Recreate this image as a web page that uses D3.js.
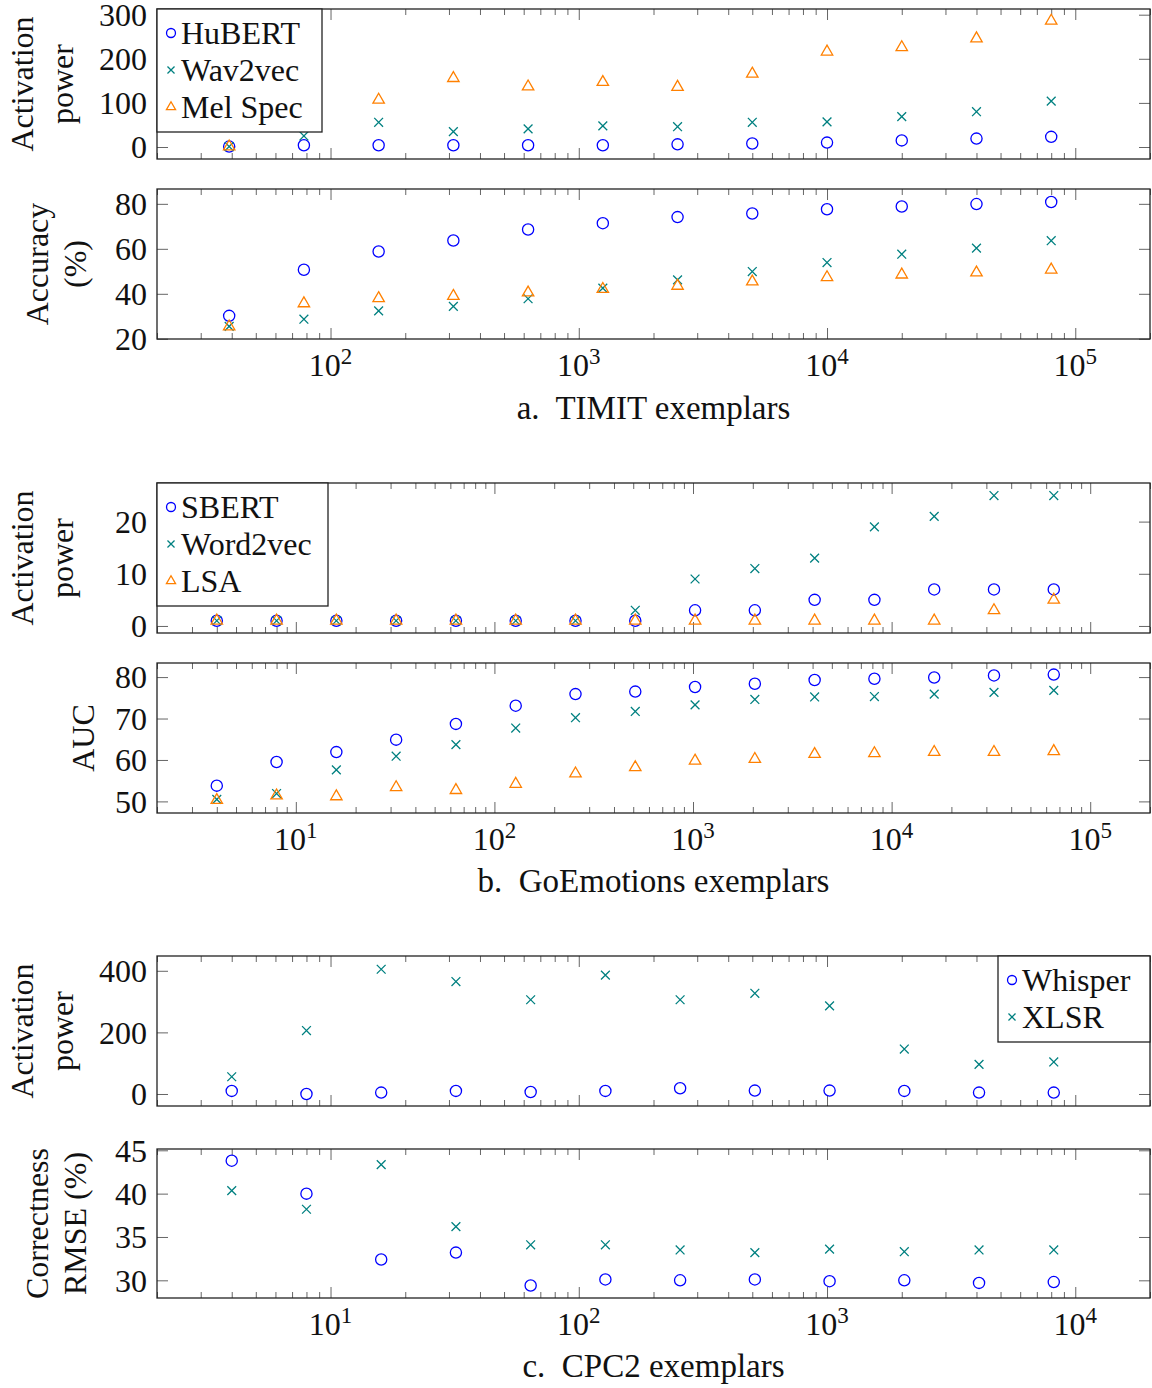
<!DOCTYPE html>
<html>
<head>
<meta charset="utf-8">
<script src="https://cdn.jsdelivr.net/npm/d3@7"></script>
<style>
  body { margin: 0; background: #fff; }
  svg text { font-family: "Liberation Serif", "Times New Roman", serif; fill: #111; }
</style>
</head>
<body>
<div id="chart"></div>
<script>
// ---- data ----
// a. TIMIT
const timitX = [39.0625, 78.125, 156.25, 312.5, 625, 1250, 2500, 5000, 10000, 20000, 40000, 80000];
const timitPowerHubert = [1, 4, 4, 4, 4, 4, 6, 8, 10, 15, 19, 23];
const timitPowerWav2vec = [1, 25, 56, 35, 41, 48, 46, 56, 57, 69, 80, 104];
const timitPowerMel = [1, 70, 107, 156, 137, 147, 136, 166, 216, 226, 246, 286];
const timitAccHubert = [30.2, 50.7, 58.8, 63.7, 68.6, 71.4, 74.1, 75.7, 77.6, 78.8, 79.9, 80.8];
const timitAccWav2vec = [25.5, 28.7, 32.4, 34.4, 37.8, 42.5, 46.2, 49.9, 53.9, 57.6, 60.3, 63.6];
const timitAccMel = [25.4, 35.7, 38.0, 39.0, 40.5, 42.1, 43.5, 45.4, 47.3, 48.5, 49.4, 50.7];

// b. GoEmotions
const goX = [4, 8, 16, 32, 64, 128, 256, 512, 1024, 2048, 4096, 8192, 16384, 32768, 65536];
const goPowerSbert = [1, 1, 1, 1, 1, 1, 1, 1, 3, 3, 5, 5, 7, 7, 7];
const goPowerWord2vec = [1, 1, 1, 1, 1, 1, 1, 3, 9, 11, 13, 19, 21, 25, 25];
const goPowerLsa = [1, 1, 1, 1, 1, 1, 1, 1, 1, 1, 1, 1, 1, 3, 5];
const goAucSbert = [53.8, 59.5, 61.9, 64.9, 68.7, 73.1, 75.9, 76.5, 77.6, 78.4, 79.3, 79.6, 79.9, 80.4, 80.6];
const goAucWord2vec = [50.5, 51.9, 57.6, 60.9, 63.7, 67.7, 70.2, 71.7, 73.3, 74.6, 75.2, 75.3, 75.9, 76.3, 76.8];
const goAucLsa = [50.3, 51.4, 51.2, 53.4, 52.7, 54.2, 56.7, 58.2, 59.8, 60.2, 61.4, 61.6, 61.9, 61.9, 62.1];

// c. CPC2
const cpcX = [4, 8, 16, 32, 64, 128, 256, 512, 1024, 2048, 4096, 8192];
const cpcPowerWhisper = [10, 0, 4.5, 10, 6.5, 10, 18.5, 11, 11, 10, 4.5, 4.5];
const cpcPowerXlsr = [56, 206, 405, 365, 306, 386, 306, 327, 286, 146, 96, 104];
const cpcRmseWhisper = [43.8, 40.0, 32.4, 33.2, 29.4, 30.1, 30.0, 30.1, 29.9, 30.0, 29.7, 29.8];
const cpcRmseXlsr = [40.35, 38.2, 43.35, 36.2, 34.1, 34.1, 33.5, 33.2, 33.6, 33.3, 33.5, 33.5];

// ---- layout ----
const W = 1152, H = 1388;
const left = 157, right = 1150;
const FONT = 32;

const svg = d3.select("#chart").append("svg")
  .attr("width", W)
  .attr("height", H);

const marks = {
  circle: { color: "#0000ff" },
  cross: { color: "#008080" },
  triangle: { color: "#ff8000" }
};

function drawMark(g, type, cx, cy, s) {
  const c = marks[type].color;
  if (type === "circle") {
    g.append("circle").attr("cx", cx).attr("cy", cy).attr("r", 5.6 * s)
      .attr("fill", "none").attr("stroke", c).attr("stroke-width", 1.3);
  } else if (type === "cross") {
    const d = 4.4 * s;
    g.append("path")
      .attr("d", `M${cx - d},${cy - d}L${cx + d},${cy + d}M${cx - d},${cy + d}L${cx + d},${cy - d}`)
      .attr("stroke", c).attr("stroke-width", 1.3).attr("fill", "none");
  } else {
    const r = 6.6 * s;
    g.append("path")
      .attr("d", `M${cx},${cy - r}L${cx + 0.866 * r},${cy + r / 2}L${cx - 0.866 * r},${cy + r / 2}Z`)
      .attr("stroke", c).attr("stroke-width", 1.3).attr("fill", "none")
      .attr("stroke-linejoin", "miter");
  }
}

// one sub-plot: framed box, log x, linear y
function drawPlot(cfg) {
  const x = d3.scaleLog().domain(cfg.xDomain).range([left, right]);
  const y = d3.scaleLinear().domain(cfg.yDomain).range([cfg.bottom, cfg.top]);
  const g = svg.append("g");

  const all = x.ticks();
  const isMajor = t => Math.abs(Math.log10(t) - Math.round(Math.log10(t))) < 1e-9;
  const major = all.filter(isMajor);
  const minor = all.filter(t => !isMajor(t));

  const tickStyle = sel => {
    sel.select(".domain").remove();
    sel.selectAll(".tick line").attr("stroke", "#666").attr("stroke-width", 1);
  };

  // x ticks, inside, bottom and top
  g.append("g").attr("transform", `translate(0,${cfg.bottom})`)
    .call(d3.axisBottom(x).tickValues(minor).tickSize(-6).tickFormat(""))
    .call(tickStyle);
  g.append("g").attr("transform", `translate(0,${cfg.bottom})`)
    .call(d3.axisBottom(x).tickValues(major).tickSize(-11).tickFormat(""))
    .call(tickStyle);
  g.append("g").attr("transform", `translate(0,${cfg.top})`)
    .call(d3.axisTop(x).tickValues(minor).tickSize(-6).tickFormat(""))
    .call(tickStyle);
  g.append("g").attr("transform", `translate(0,${cfg.top})`)
    .call(d3.axisTop(x).tickValues(major).tickSize(-11).tickFormat(""))
    .call(tickStyle);

  // y ticks, left with labels, right mirrored
  const yl = g.append("g").attr("transform", `translate(${left},0)`)
    .call(d3.axisLeft(y).tickValues(cfg.yTicks).tickSize(-11).tickPadding(10))
    .call(tickStyle);
  yl.selectAll(".tick text")
    .attr("font-size", FONT)
    .attr("font-family", "Liberation Serif")
    .attr("fill", "#111")
    .attr("dy", "0.34em");
  g.append("g").attr("transform", `translate(${right},0)`)
    .call(d3.axisRight(y).tickValues(cfg.yTicks).tickSize(-11).tickFormat(""))
    .call(tickStyle);

  // x labels 10^n
  if (cfg.xLabels) {
    major.forEach(t => {
      const e = Math.round(Math.log10(t));
      const tx = g.append("text")
        .attr("x", x(t))
        .attr("y", cfg.bottom + 37)
        .attr("text-anchor", "middle")
        .attr("font-size", FONT);
      tx.append("tspan").text("10");
      tx.append("tspan").attr("dy", -12).attr("font-size", 23).text(e);
    });
  }

  // y label (one or two lines, rotated)
  const cy = (cfg.top + cfg.bottom) / 2;
  cfg.yLabel.forEach((line, i) => {
    g.append("text")
      .attr("transform", `translate(${cfg.yLabelX[i]},${cy}) rotate(-90)`)
      .attr("text-anchor", "middle")
      .attr("dominant-baseline", "central")
      .attr("font-size", FONT)
      .text(line);
  });

  // data
  const pts = g.append("g");
  cfg.series.forEach(s => {
    cfg.xs.forEach((xv, i) => drawMark(pts, s.mark, x(xv), y(s.values[i]), 1));
  });

  // frame
  g.append("rect")
    .attr("x", left).attr("y", cfg.top)
    .attr("width", right - left).attr("height", cfg.bottom - cfg.top)
    .attr("fill", "none").attr("stroke", "#222").attr("stroke-width", 1.3);

  // legend
  if (cfg.legend) {
    const L = cfg.legend;
    const lg = g.append("g");
    lg.append("rect")
      .attr("x", L.x).attr("y", L.y).attr("width", L.w).attr("height", L.h)
      .attr("fill", "#fff").attr("stroke", "#222").attr("stroke-width", 1.3);
    cfg.series.forEach((s, i) => {
      const ry = L.y + 24 + i * 37;
      drawMark(lg, s.mark, L.x + 14, ry, 0.8);
      lg.append("text")
        .attr("x", L.x + 24)
        .attr("y", ry)
        .attr("dy", "0.34em")
        .attr("font-size", FONT)
        .text(s.name);
    });
  }
}

function caption(text, yBase) {
  svg.append("text")
    .attr("x", (left + right) / 2)
    .attr("y", yBase)
    .attr("text-anchor", "middle")
    .attr("font-size", 33)
    .attr("xml:space", "preserve")
    .text(text);
}

// ---- a. TIMIT ----
drawPlot({
  top: 9, bottom: 159, xDomain: [20, 2e5], yDomain: [-27.2, 312.9],
  yTicks: [0, 100, 200, 300], xs: timitX,
  yLabel: ["Activation", "power"], yLabelX: [22, 62],
  series: [
    { name: "HuBERT", mark: "circle", values: timitPowerHubert },
    { name: "Wav2vec", mark: "cross", values: timitPowerWav2vec },
    { name: "Mel Spec", mark: "triangle", values: timitPowerMel }
  ],
  legend: { x: 157, y: 9, w: 165, h: 123 }
});
drawPlot({
  top: 189, bottom: 339, xDomain: [20, 2e5], yDomain: [19.9, 86.6],
  yTicks: [20, 40, 60, 80], xs: timitX, xLabels: true,
  yLabel: ["Accuracy", "(%)"], yLabelX: [37, 75],
  series: [
    { name: "HuBERT", mark: "circle", values: timitAccHubert },
    { name: "Wav2vec", mark: "cross", values: timitAccWav2vec },
    { name: "Mel Spec", mark: "triangle", values: timitAccMel }
  ]
});
caption("a.  TIMIT exemplars", 419);

// ---- b. GoEmotions ----
drawPlot({
  top: 483, bottom: 633, xDomain: [2, 2e5], yDomain: [-1.35, 27.4],
  yTicks: [0, 10, 20], xs: goX,
  yLabel: ["Activation", "power"], yLabelX: [22, 62],
  series: [
    { name: "SBERT", mark: "circle", values: goPowerSbert },
    { name: "Word2vec", mark: "cross", values: goPowerWord2vec },
    { name: "LSA", mark: "triangle", values: goPowerLsa }
  ],
  legend: { x: 157, y: 483, w: 171, h: 123 }
});
drawPlot({
  top: 663, bottom: 813, xDomain: [2, 2e5], yDomain: [47.2, 83.4],
  yTicks: [50, 60, 70, 80], xs: goX, xLabels: true,
  yLabel: ["AUC"], yLabelX: [83],
  series: [
    { name: "SBERT", mark: "circle", values: goAucSbert },
    { name: "Word2vec", mark: "cross", values: goAucWord2vec },
    { name: "LSA", mark: "triangle", values: goAucLsa }
  ]
});
caption("b.  GoEmotions exemplars", 892);

// ---- c. CPC2 ----
drawPlot({
  top: 956, bottom: 1106, xDomain: [2, 2e4], yDomain: [-39, 448],
  yTicks: [0, 200, 400], xs: cpcX,
  yLabel: ["Activation", "power"], yLabelX: [22, 62],
  series: [
    { name: "Whisper", mark: "circle", values: cpcPowerWhisper },
    { name: "XLSR", mark: "cross", values: cpcPowerXlsr }
  ],
  legend: { x: 998, y: 956, w: 152, h: 86 }
});
drawPlot({
  top: 1149, bottom: 1298, xDomain: [2, 2e4], yDomain: [27.96, 45.15],
  yTicks: [30, 35, 40, 45], xs: cpcX, xLabels: true,
  yLabel: ["Correctness", "RMSE (%)"], yLabelX: [37, 75],
  series: [
    { name: "Whisper", mark: "circle", values: cpcRmseWhisper },
    { name: "XLSR", mark: "cross", values: cpcRmseXlsr }
  ]
});
caption("c.  CPC2 exemplars", 1377);
</script>
</body>
</html>
